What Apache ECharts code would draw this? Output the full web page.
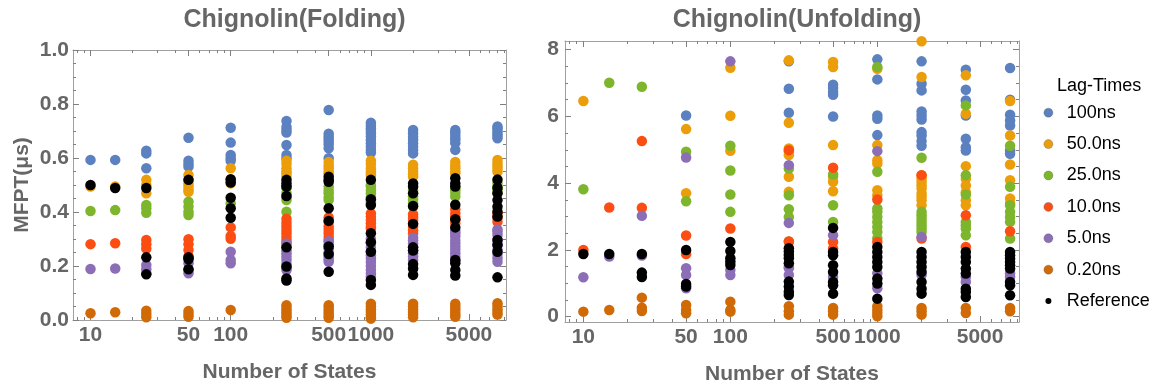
<!DOCTYPE html>
<html><head><meta charset="utf-8">
<script src="https://cdn.jsdelivr.net/npm/echarts@6/dist/echarts.min.js"></script>
<style>html,body{margin:0;padding:0;background:#fff}#c{width:1160px;height:390px}</style>
</head><body><div id="c"></div>
<script>
// ---------- data ----------
const states = [10, 15, 25, 50, 100, 250, 500, 1000, 2000, 4000, 8000];
const seriesNames = ['100ns', '50.0ns', '25.0ns', '10.0ns', '5.0ns', '0.20ns', 'Reference'];

// Folding MFPT (µs), one list per number of states
const fold100 = [[0.593],[0.593],[0.627,0.617,0.562],[0.675,0.590,0.578,0.568],[0.712,0.657,0.611,0.599,0.590],[0.737,0.715,0.704,0.694,0.648,0.611,0.599],[0.778,0.690,0.680,0.670,0.660,0.650,0.636,0.599],[0.731,0.720,0.710,0.700,0.691,0.680,0.667,0.655,0.642,0.630,0.620],[0.704,0.692,0.679,0.668,0.655,0.642,0.630,0.617],[0.704,0.695,0.685,0.675,0.667,0.655,0.630],[0.717,0.710,0.700,0.691,0.682,0.673]];
const fold50 = [[0.494],[0.494],[0.519,0.500,0.469],[0.537,0.519,0.505,0.494,0.482,0.475],[0.562,0.519,0.506],[0.590,0.578,0.562,0.550,0.543,0.531],[0.585,0.572,0.562,0.550,0.543],[0.590,0.578,0.562,0.550,0.543,0.535],[0.575,0.562,0.549,0.540,0.531],[0.585,0.572,0.562,0.550,0.543],[0.593,0.580,0.570,0.560,0.549]];
const fold25 = [[0.404],[0.407],[0.426,0.414,0.397],[0.438,0.420,0.401,0.389],[0.432],[0.494,0.488,0.470,0.455,0.444,0.401],[0.494,0.480,0.469,0.455,0.444],[0.500,0.494,0.480,0.469,0.455,0.440,0.432],[0.481,0.470,0.457,0.445,0.432,0.420],[0.490,0.481,0.470,0.457],[0.506,0.490,0.480,0.469]];
const fold10 = [[0.281],[0.284],[0.296,0.281,0.265],[0.299,0.281,0.259,0.235],[0.343,0.311,0.301],[0.375,0.360,0.346,0.333,0.321,0.308,0.296,0.285],[0.380,0.365,0.346,0.333,0.321,0.308,0.296],[0.395,0.382,0.370,0.358,0.345,0.339],[0.392,0.380,0.370,0.358,0.345,0.332,0.321],[0.410,0.395,0.383,0.370,0.358],[0.395,0.380,0.364]];
const fold5 = [[0.189],[0.191],[0.204,0.188,0.173],[0.210,0.185,0.173],[0.253,0.222,0.210],[0.283,0.270,0.258,0.247,0.235,0.222,0.208,0.195,0.185],[0.292,0.280,0.265,0.250,0.235,0.225,0.216],[0.300,0.285,0.270,0.255,0.240,0.228,0.215,0.200,0.185,0.172,0.160],[0.305,0.295,0.284,0.270,0.258,0.247,0.235,0.222],[0.330,0.321,0.310,0.296,0.284,0.272,0.260,0.247,0.235,0.222],[0.335,0.327,0.315,0.296,0.280,0.259,0.245,0.230,0.216]];
const fold02 = [[0.025],[0.029],[0.034,0.022,0.010],[0.033,0.022,0.012],[0.037],[0.055,0.045,0.035,0.025,0.015,0.008],[0.055,0.045,0.035,0.025,0.015,0.008],[0.060,0.050,0.040,0.030,0.020,0.010,0.005],[0.060,0.050,0.040,0.030,0.020,0.010],[0.060,0.050,0.040,0.030,0.020,0.012],[0.062,0.052,0.040,0.030,0.020]];
const foldRef = [[0.500],[0.489],[0.489,0.232,0.169],[0.519,0.232,0.225,0.188],[0.521,0.509,0.453,0.414,0.379],[0.519,0.506,0.494,0.459,0.269,0.198,0.154,0.146],[0.531,0.519,0.512,0.414,0.367,0.272,0.244,0.179],[0.519,0.447,0.426,0.321,0.288,0.253,0.148,0.130],[0.506,0.494,0.469,0.422,0.356,0.269,0.257,0.207,0.191,0.167],[0.525,0.506,0.494,0.427,0.373,0.343,0.222,0.210,0.185,0.165],[0.520,0.490,0.469,0.444,0.420,0.401,0.383,0.296,0.278,0.253,0.158]];

// Unfolding MFPT (µs)
const unf100 = [[],[],[],[6.03],[],[7.65,6.83,6.11],[6.95,6.85,6.73,6.65,6.00],[7.71,7.11,6.03,5.93,5.44],[7.65,6.98,6.78,6.15,6.03,5.91,5.53,5.43,5.26,5.12],[7.40,6.80,6.48,6.03,5.33,5.08,4.98],[7.45,6.50,6.05,5.88,5.73,4.98,4.88]];
const unf50 = [[6.46],[],[],[5.62,3.70],[7.46,6.02,4.97],[7.68,5.81,5.04,4.94,4.84,4.19,3.74],[7.63,7.48,5.14,4.19,4.04,3.76],[7.43,5.14,4.69,4.59,3.79,3.64],[8.25,7.18,4.24,4.14,4.04,3.94,3.84,3.69,3.59,3.49,3.34],[7.23,6.08,4.51,4.13,3.93,3.73,3.49,3.34],[6.46,5.43,4.56,4.09,3.54,3.39]];
const unf25 = [[3.82],[7.01],[6.89],[4.94,3.46],[5.12,4.38,3.66,3.14],[4.44,3.64,3.22,2.99,2.25],[4.26,3.34,2.84],[7.48,4.34,3.24,3.14,2.99,2.84,2.69,2.54,2.35],[4.76,3.14,3.04,2.94,2.84,2.74,2.64,2.54],[6.33,4.24,3.66,2.84,2.74,2.64,2.44],[5.12,3.89,3.34,3.14,2.99,2.84,2.34]];
const unf10 = [[1.996],[3.27],[5.26,3.26],[2.43,1.88],[2.64],[4.99,2.25,1.50],[4.46,2.24,2.04],[3.51,2.24],[4.24,2.34],[3.04,2.09],[2.56]];
const unf5 = [[1.18],[1.80],[3.02,1.83],[4.77,1.45,1.25,0.85],[7.65,1.40,1.25],[4.54,2.81,1.45,1.25],[2.44,1.19],[4.96,1.30,0.85],[2.39,1.25],[1.19,1.04],[1.30,1.19]];
const unf02 = [[0.15],[0.20],[0.57,0.27,0.17],[0.35,0.20,0.10],[0.45,0.20,0.15],[0.31,0.16,0.06],[0.26,0.16,0.06],[0.31,0.21,0.11,0.01],[0.26,0.16,0.06],[0.26,0.11],[0.26,0.16]];
const unfRef = [[1.88],[1.88],[1.88,1.32,1.19],[2.00,0.98,0.90],[2.24,1.97,1.75,1.65,1.55],[2.05,1.95,1.85,1.75,1.60,1.05,0.90,0.75,0.65],[2.66,1.94,1.84,1.54,1.34,1.04,0.94,0.69],[2.09,1.94,1.79,1.64,1.49,1.14,0.99,0.54],[1.94,1.79,1.64,1.49,1.34,1.04,0.84,0.69],[1.94,1.79,1.64,1.44,1.29,0.84,0.74,0.59],[1.94,1.84,1.74,1.64,1.54,1.44,1.04,0.94,0.64]];

// tick labels
const xMajorTicks = [10, 50, 100, 500, 1000, 5000];
const xMinorTicks = [8, 9, 20, 30, 40, 60, 70, 80, 90, 200, 300, 400, 600, 700, 800, 900, 2000, 3000, 4000, 6000, 7000, 8000, 9000];
const foldYMajor = [0, 0.2, 0.4, 0.6, 0.8, 1.0];
const foldYMinor = [0.05,0.1,0.15,0.25,0.3,0.35,0.45,0.5,0.55,0.65,0.7,0.75,0.85,0.9,0.95];
const unfYMajor = [0, 2, 4, 6, 8];
const unfYMinor = [0.5,1,1.5,2.5,3,3.5,4.5,5,5.5,6.5,7,7.5];

// ---------- styles ----------
const colors = ['#5c81c0', '#eb9e0a', '#7db52c', '#fc4e12', '#8c6eb7', '#d06a06', '#000000'];
const grayText = '#666666';
const frameColor = '#a0a0a0';
const tickColor = '#808080';
const labelFont = { fontFamily: 'Liberation Sans', fontWeight: 'bold', fontSize: 21, color: grayText };
const nameFont = { fontFamily: 'Liberation Sans', fontWeight: 'bold', fontSize: 21, color: grayText };

function mkAxis(kind, gi, pos, min, max, ticks, len, labels, margin, fmt, showLine) {
  const a = {
    type: kind, gridIndex: gi, position: pos, min: min, max: max,
    axisLine: { show: !!showLine, onZero: false, lineStyle: { color: frameColor, width: 1 } },
    axisTick: { show: true, inside: true, length: len, customValues: ticks, lineStyle: { color: tickColor, width: 1 } },
    axisLabel: labels ? Object.assign({ show: true, customValues: labels, margin: margin, formatter: fmt }, labelFont) : { show: false },
    splitLine: { show: false }, minorTick: { show: false }, minorSplitLine: { show: false },
    silent: true
  };
  if (kind === 'log') a.logBase = 10;
  return a;
}
const xMin = 7.5, xMax = 9200;
const fmtInt = v => String(Math.round(v));
const xAxes = [];
const yAxes = [];
const panels = [
  { yMin: 0, yMax: 1.0, yMaj: foldYMajor, yMin2: foldYMinor, yFmt: v => Number(v).toFixed(1), yMargin: 4, yName: 'MFPT(\u03bcs)' },
  { yMin: -0.16, yMax: 8.26, yMaj: unfYMajor, yMin2: unfYMinor, yFmt: v => String(Math.round(v)), yMargin: 6, yName: '' }
];
panels.forEach((p, gi) => {
  const xb = mkAxis('log', gi, 'bottom', xMin, xMax, xMajorTicks, 6, xMajorTicks, 5, fmtInt, true);
  xb.name = 'Number of States'; xb.nameLocation = 'middle'; xb.nameGap = 42; xb.nameTextStyle = nameFont;
  xAxes.push(xb);
  xAxes.push(mkAxis('log', gi, 'bottom', xMin, xMax, xMinorTicks, 3, null));
  xAxes.push(mkAxis('log', gi, 'top', xMin, xMax, xMajorTicks, 6, null, 0, null, true));
  xAxes.push(mkAxis('log', gi, 'top', xMin, xMax, xMinorTicks, 3, null));
  const yl = mkAxis('value', gi, 'left', p.yMin, p.yMax, p.yMaj, 6, p.yMaj, p.yMargin, p.yFmt, true);
  if (p.yName) { yl.name = p.yName; yl.nameLocation = 'middle'; yl.nameGap = 40; yl.nameTextStyle = nameFont; }
  yAxes.push(yl);
  yAxes.push(mkAxis('value', gi, 'left', p.yMin, p.yMax, p.yMin2, 3, null));
  yAxes.push(mkAxis('value', gi, 'right', p.yMin, p.yMax, p.yMaj, 6, null, 0, null, true));
  yAxes.push(mkAxis('value', gi, 'right', p.yMin, p.yMax, p.yMin2, 3, null));
});

function toPoints(lists) {
  const pts = [];
  lists.forEach((vals, k) => vals.forEach(v => pts.push([states[k], v])));
  return pts;
}
const foldSets = [fold100, fold50, fold25, fold10, fold5, fold02, foldRef];
const unfSets = [unf100, unf50, unf25, unf10, unf5, unf02, unfRef];
const series = [];
[foldSets, unfSets].forEach((sets, gi) => {
  sets.forEach((lists, i) => {
    series.push({
      type: 'scatter', name: seriesNames[i], xAxisIndex: gi * 4, yAxisIndex: gi * 4,
      data: toPoints(lists), symbol: 'circle', symbolSize: 10.5,
      itemStyle: { color: colors[i], opacity: 1 },
      emphasis: { disabled: true }, silent: true, clip: true
    });
  });
});

const chart = echarts.init(document.getElementById('c'), null, { renderer: 'canvas' });
chart.setOption({
  animation: false,
  backgroundColor: '#ffffff',
  color: colors,
  title: [
    { text: 'Chignolin(Folding)', left: 289.5, top: 3, textAlign: 'center', textStyle: { fontFamily: 'Liberation Sans', fontWeight: 'bold', fontSize: 25, color: grayText } },
    { text: 'Chignolin(Unfolding)', left: 792, top: 3, textAlign: 'center', textStyle: { fontFamily: 'Liberation Sans', fontWeight: 'bold', fontSize: 25, color: grayText } },
    { text: 'Lag-Times', left: 1052, top: 72, textStyle: { fontFamily: 'Liberation Sans', fontWeight: 'normal', fontSize: 18, color: '#000' } }
  ],
  legend: {
    orient: 'vertical', left: 1037.4, top: 97.7,
    itemWidth: 26.6, itemHeight: 9, itemGap: 11.4, icon: 'circle', selectedMode: false,
    textStyle: { fontFamily: 'Liberation Sans', fontSize: 18, color: '#000', lineHeight: 20 },
    itemStyle: { borderColor: 'rgba(90,90,90,0.35)', borderWidth: 1 },
    data: seriesNames.map((n, i) => i === 6 ? { name: n, itemStyle: { borderColor: '#ffffff', borderWidth: 3 } } : { name: n })
  },
  grid: [
    { left: 73, top: 50, width: 433, height: 270, show: false },
    { left: 565, top: 41, width: 454, height: 281, show: false }
  ],
  xAxis: xAxes,
  yAxis: yAxes,
  series: series
});
</script>
</body></html>
